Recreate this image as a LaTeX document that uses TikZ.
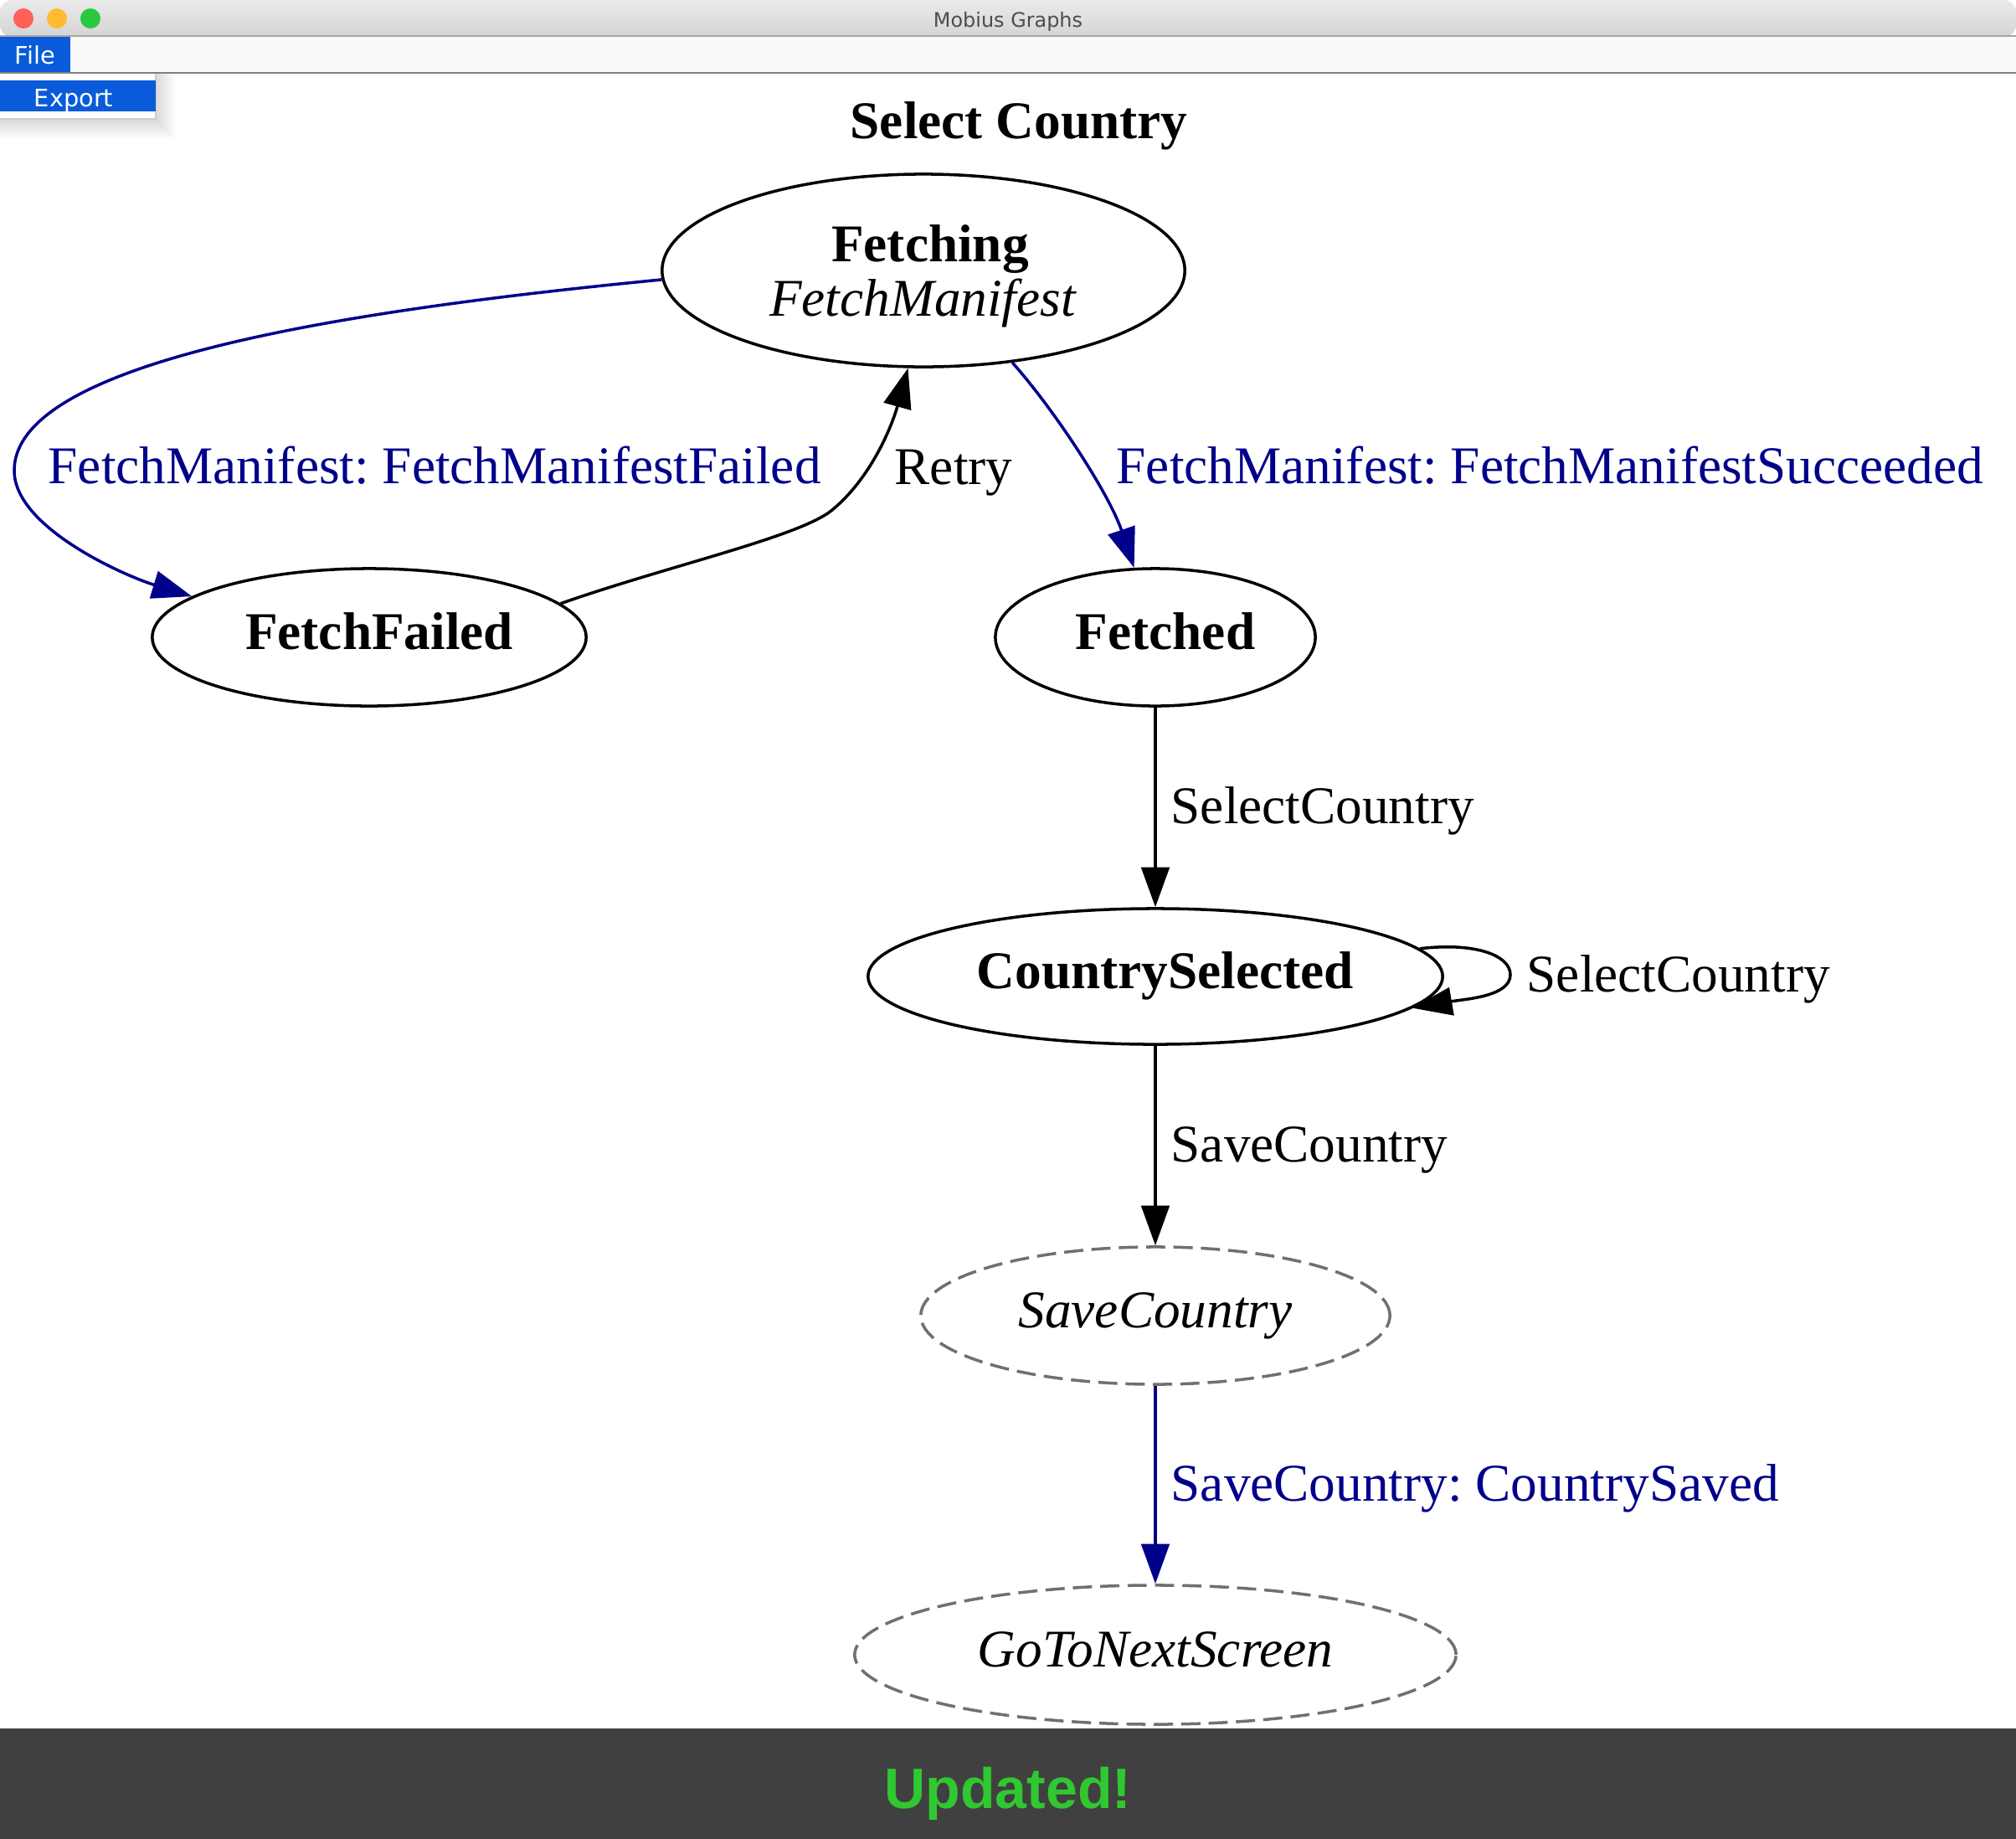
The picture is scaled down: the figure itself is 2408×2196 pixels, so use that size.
\documentclass[tikz,border=0pt]{standalone}
\usepackage{fontspec}
\setmainfont{Liberation Serif}
\newfontfamily\uifont{DejaVu Sans}
\newfontfamily\barfont{Liberation Sans}
\usetikzlibrary{arrows.meta,shapes.geometric}
\definecolor{edgeblue}{RGB}{0,0,139}
\definecolor{dashgray}{RGB}{112,112,112}
\definecolor{menublue}{RGB}{9,91,217}
\definecolor{barbg}{RGB}{64,64,64}
\definecolor{updgreen}{RGB}{48,200,48}
\definecolor{menubg}{RGB}{250,250,250}
\definecolor{titletop}{RGB}{234,234,234}
\definecolor{titlebot}{RGB}{212,212,212}
\definecolor{wintitle}{RGB}{77,77,77}
\definecolor{tlred}{RGB}{255,95,87}
\definecolor{tlyellow}{RGB}{254,188,46}
\definecolor{tlgreen}{RGB}{40,200,64}
\newcommand{\boldpad}{\hspace*{0.24cm}}
\begin{document}
\frenchspacing
\begin{tikzpicture}[x=0.01cm,y=-0.01cm,
  state/.style={ellipse, draw, line width=1pt, inner sep=0pt,
    text height=14pt, text depth=6pt, font=\fontsize{18}{21}\selectfont\bfseries},
  effect/.style={ellipse, draw=dashgray, dash pattern=on 6.5pt off 2.8pt,
    line width=1pt, inner sep=0pt, text height=14pt, text depth=6pt,
    font=\fontsize{18}{21}\selectfont\itshape},
  tr/.style={-{Triangle[length=13.5pt,width=9.5pt]}, line width=1pt},
  evt/.style={tr, draw=black},
  effarrow/.style={tr, draw=edgeblue},
  lbl/.style={anchor=base west, inner sep=0pt, font=\fontsize{18}{21}\selectfont},
  bluelbl/.style={lbl, text=edgeblue},
  txt/.style={anchor=base, inner sep=0pt},
  uitext/.style={anchor=base, inner sep=0pt, text=white, font=\uifont\fontsize{8.2}{10}\selectfont}
]
\useasboundingbox (0,0) rectangle (2408,2196);
\fill[white] (0,0) rectangle (2408,2196);

% window title bar
\shade[top color=titletop, bottom color=titlebot, rounded corners=4pt]
  (0,44) -- (0,0) -- (2408,0) -- (2408,44) -- cycle;
\fill[gray!70] (0,42) rectangle (2408,44);
\fill[tlred] (28,22) circle[radius=0.12cm];
\fill[tlyellow] (68,22) circle[radius=0.12cm];
\fill[tlgreen] (108,22) circle[radius=0.12cm];
\node[anchor=base, inner sep=0pt, text=wintitle, font=\uifont\fontsize{6.8}{8}\selectfont]
  (wintitle) at (1204,32) {Mobius Graphs};

% menu bar
\fill[menubg] (0,44) rectangle (2408,86);
\fill[gray] (0,86) rectangle (2408,88);
\fill[menublue] (0,44) rectangle (84,86);
\node[uitext] (filemenu) at (42,76) {File};

% popup menu with shadow
\foreach \s in {2,4,...,24}
  \fill[black, opacity=0.012] (0,88) rectangle (186+\s,142+\s);
\fill[white] (0,88) rectangle (186,142);
\draw[gray!40, line width=0.3pt] (186,88) -- (186,142) -- (0,142);
\fill[menublue] (0,96) rectangle (186,133);
\node[uitext] (export) at (88,127) {Export};

% graph title
\node[txt, font=\fontsize{18}{21}\selectfont\bfseries] (title) at (1217,165) {Select Country};

% states
\node[state, minimum width=6.24cm, minimum height=2.30cm] (fetching) at (1103,323) {};
\node[txt, font=\fontsize{18}{21}\selectfont\bfseries] (fetchingname) at (1111,312) {Fetching};
\node[txt, font=\fontsize{18}{21}\selectfont\itshape] (fetchingeffect) at (1102,377) {FetchManifest};
\node[state, minimum width=5.18cm, minimum height=1.64cm] (fetchfailed) at (441,761) {\boldpad FetchFailed};
\node[state, minimum width=3.82cm, minimum height=1.64cm] (fetched) at (1380,761) {\boldpad Fetched};
\node[state, minimum width=6.86cm, minimum height=1.62cm] (countrysel) at (1380,1166) {\boldpad CountrySelected};
\node[effect, minimum width=5.60cm, minimum height=1.64cm] (savecountry) at (1380,1571) {SaveCountry};
\node[effect, minimum width=7.18cm, minimum height=1.66cm] (gonext) at (1380,1976) {GoToNextScreen};

% transitions
\draw[effarrow] (fetching.182.8) .. controls (420,370) and (17,430) .. (17,562)
  .. controls (17,630) and (150,688) .. (fetchfailed.167.9);
\draw[evt] (fetchfailed.10.9) .. controls (800,675) and (955,641) .. (994,609)
  .. controls (1040,571) and (1065,510) .. (fetching.261.9);
\draw[effarrow] (fetching.314.7) .. controls (1260,490) and (1325,590) .. (fetched.107.8);
\draw[evt] (fetched) -- (countrysel);
\draw[evt] (countrysel.6.67) .. controls (1760,1125) and (1804,1140) .. (1804,1164)
  .. controls (1804,1190) and (1750,1193) .. (countrysel.353.3);
\draw[evt] (countrysel) -- (savecountry);
\draw[effarrow] (savecountry) -- (gonext);

% transition labels
\node[bluelbl] (lfailed) at (57,577) {FetchManifest: FetchManifestFailed};
\node[lbl] (lretry) at (1068,578) {Retry};
\node[bluelbl] (lsucceeded) at (1333,577) {FetchManifest: FetchManifestSucceeded};
\node[lbl] (lselect) at (1398,983) {SelectCountry};
\node[lbl] (lselectloop) at (1823,1184) {SelectCountry};
\node[lbl] (lsave) at (1398,1387) {SaveCountry};
\node[bluelbl] (lsaved) at (1398,1792) {SaveCountry: CountrySaved};

% status bar
\fill[barbg] (0,2064) rectangle (2408,2196);
\node[txt, text=updgreen, font=\barfont\bfseries\fontsize{19.35}{22}\selectfont]
  (status) at (1204,2159) {Updated!};
\end{tikzpicture}
\end{document}
